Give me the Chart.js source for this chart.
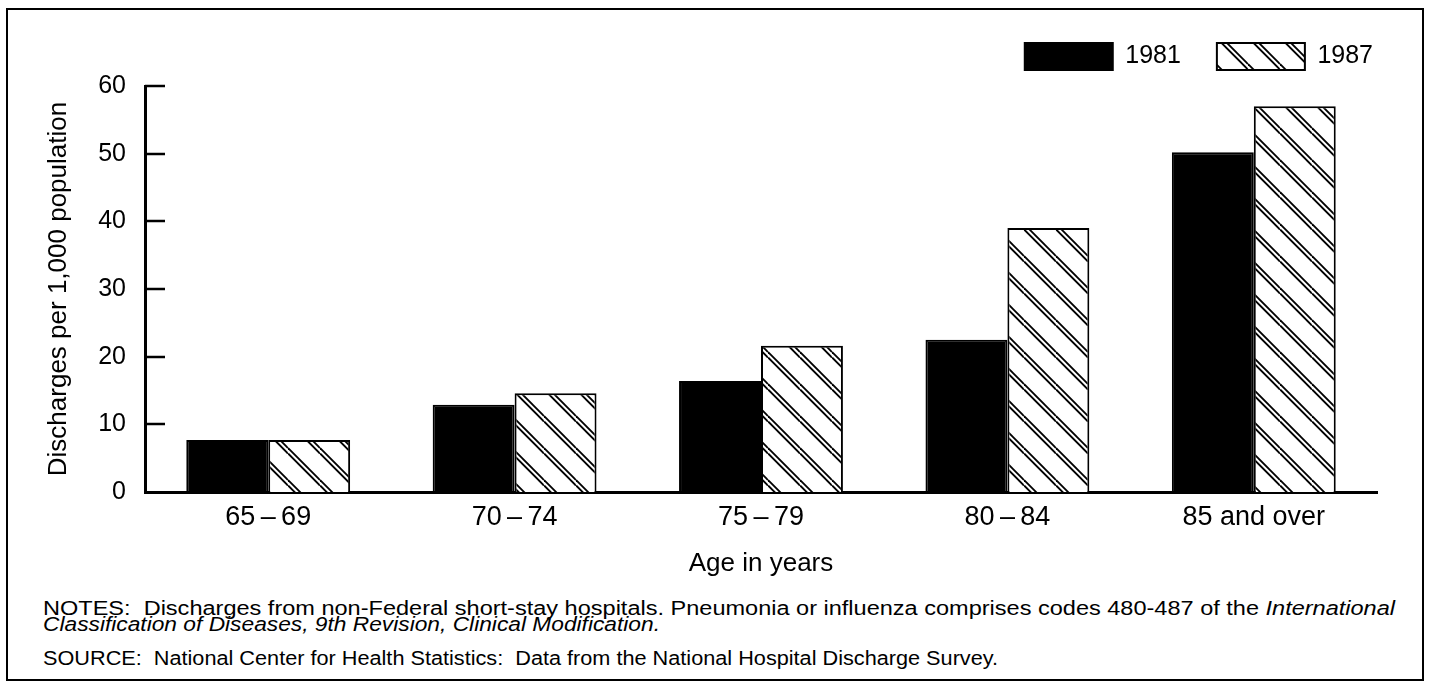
<!DOCTYPE html>
<html>
<head>
<meta charset="utf-8">
<script src="https://cdn.jsdelivr.net/npm/chart.js@4.4.1/dist/chart.umd.min.js"></script>
<style>
  html, body { margin: 0; padding: 0; background: #fff; }
  body { width: 1432px; height: 684px; position: relative; overflow: hidden;
         font-family: "Liberation Sans", Arial, sans-serif; color: #000; }
  #frame { position: absolute; left: 6px; top: 8px; width: 1418px; height: 673px;
           border: 2px solid #000; box-sizing: border-box; }
  #chart { position: absolute; left: 0; top: 0; }
  .note { position: absolute; left: 43px; font-size: 20px; line-height: 17px; white-space: nowrap;
          transform-origin: 0 50%; }
</style>
</head>
<body>
<div id="frame"></div>
<canvas id="chart" width="1432" height="590"></canvas>
<div class="note" id="n1" style="top:600px" data-w="1352">NOTES:&nbsp; Discharges from non-Federal short-stay hospitals. Pneumonia or influenza comprises codes 480-487 of the <i>International</i></div>
<div class="note" id="n2" style="top:616px" data-w="617"><i>Classification of Diseases, 9th Revision, Clinical Modification.</i></div>
<div class="note" id="n3" style="top:650px" data-w="955">SOURCE:&nbsp; National Center for Health Statistics:&nbsp; Data from the National Hospital Discharge Survey.</div>

<script>
// data
const ageGroups = ['65\u2009\u2013\u200969', '70\u2009\u2013\u200974', '75\u2009\u2013\u200979', '80\u2009\u2013\u200984', '85 and over'];
const rates1981 = [7.7, 12.9, 16.4, 22.5, 50.2];
const rates1987 = [7.7, 14.6, 21.6, 39.0, 57.0];
const yMin = 0, yMax = 60, yStep = 10;

const FONT = '"Liberation Sans", Arial, sans-serif';

// diagonal "\" hatch, lines in pairs
function makeHatch() {
  const s = 32;
  const c = document.createElement('canvas');
  c.width = s; c.height = s;
  const g = c.getContext('2d');
  g.fillStyle = '#fff';
  g.fillRect(0, 0, s, s);
  g.strokeStyle = '#000';
  g.lineWidth = 1.9;
  for (const off of [0, 5.5]) {
    for (const k of [-1, 0, 1]) {
      g.beginPath();
      g.moveTo(0, off + k * s);
      g.lineTo(s, off + k * s + s);
      g.stroke();
    }
  }
  return g.createPattern(c, 'repeat');
}

// short tick marks pointing into the plot
const innerTicks = {
  id: 'innerTicks',
  afterDatasetsDraw(chart) {
    const y = chart.scales.y;
    const left = chart.chartArea.left;
    const ctx = chart.ctx;
    ctx.save();
    ctx.strokeStyle = '#000';
    ctx.lineWidth = 2.5;
    y.ticks.forEach(t => {
      if (t.value === yMin) return;
      const py = Math.round(y.getPixelForValue(t.value));
      ctx.beginPath();
      ctx.moveTo(left, py);
      ctx.lineTo(left + 20, py);
      ctx.stroke();
    });
    ctx.restore();
  }
};

// a bit more room under the legend
const legendGap = {
  id: 'legendGap',
  beforeInit(chart) {
    const fit = chart.legend.fit;
    chart.legend.fit = function () {
      fit.call(this);
      this.height += 6;
    };
  }
};

new Chart(document.getElementById('chart'), {
  type: 'bar',
  data: {
    labels: ageGroups,
    datasets: [
      { label: '1981', data: rates1981, backgroundColor: '#000', borderColor: '#000', borderWidth: 2 },
      { label: '1987', data: rates1987, backgroundColor: makeHatch(), borderColor: '#000', borderWidth: 2 }
    ]
  },
  options: {
    responsive: false,
    animation: false,
    devicePixelRatio: 1,
    categoryPercentage: 0.665,
    barPercentage: 1,
    layout: { padding: { top: 7, left: 40, right: 23, bottom: 7 } },
    plugins: {
      legend: {
        position: 'top',
        align: 'end',
        labels: { boxWidth: 88, boxHeight: 27, padding: 36, color: '#000', font: { family: FONT, size: 25 } }
      },
      tooltip: { enabled: false }
    },
    scales: {
      x: {
        grid: { display: false, drawTicks: false },
        border: { display: true, color: '#000', width: 3 },
        ticks: { color: '#000', padding: 9, maxRotation: 0, autoSkip: false, font: { family: FONT, size: 27 } },
        title: { display: true, text: 'Age in years', color: '#000', font: { family: FONT, size: 26 }, padding: { top: 0, bottom: 4 } },
        afterFit: s => { s.height = 91; }
      },
      y: {
        min: yMin,
        max: yMax,
        ticks: { stepSize: yStep, color: '#000', padding: 19, font: { family: FONT, size: 25 } },
        grid: { display: false, drawTicks: false },
        border: { display: true, color: '#000', width: 3 },
        title: { display: true, text: 'Discharges per 1,000 population', color: '#000', font: { family: FONT, size: 26 }, padding: { top: 3, bottom: 0 } },
        afterFit: s => { s.width = 105; }
      },
      pad: {
        type: 'linear',
        axis: 'y',
        position: 'right',
        grid: { display: false, drawTicks: false },
        border: { display: false },
        ticks: { display: false },
        afterFit: s => { s.width = 32; }
      }
    }
  },
  plugins: [innerTicks, legendGap]
});

// the notes are set in a wide face: stretch each line to its width in the figure
document.querySelectorAll('.note').forEach(n => {
  const k = Number(n.dataset.w) / n.getBoundingClientRect().width;
  n.style.transform = 'scaleX(' + k + ')';
});
</script>
</body>
</html>
